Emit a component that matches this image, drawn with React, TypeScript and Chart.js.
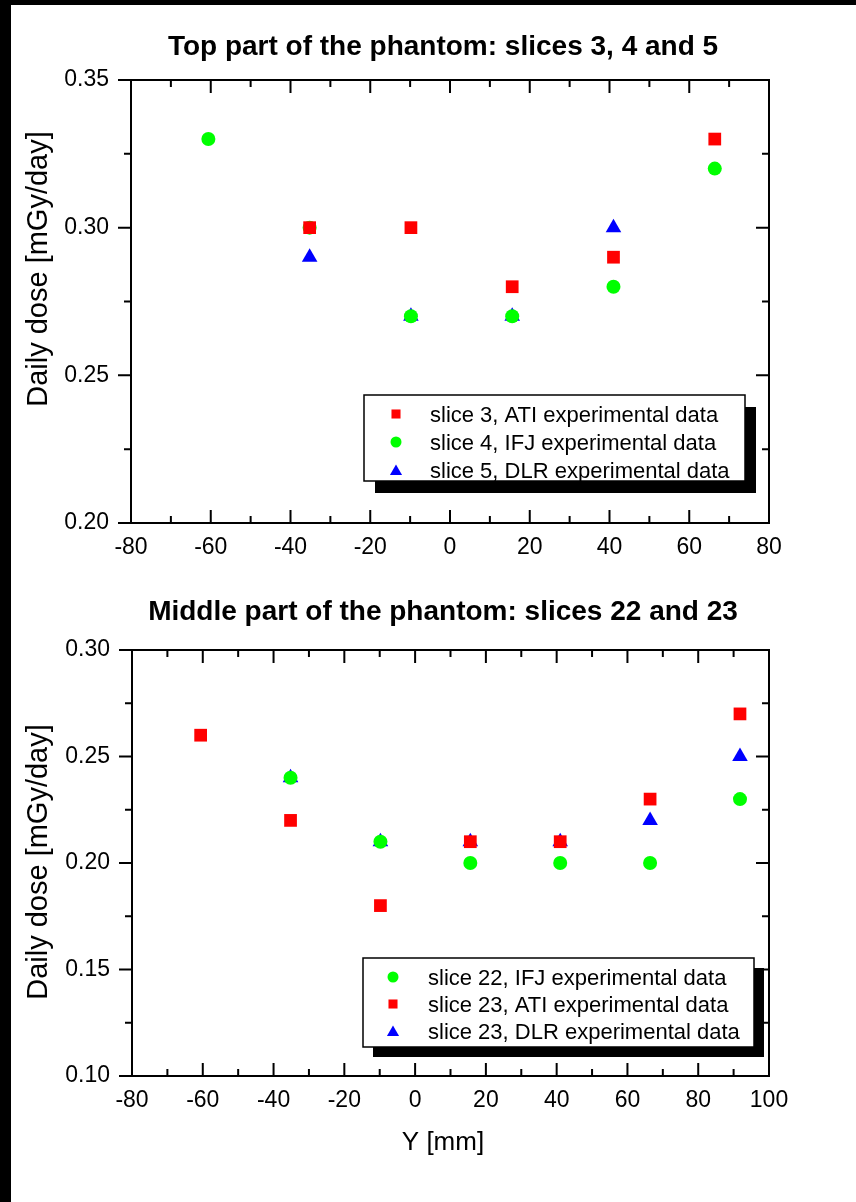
import React, { useEffect, useRef } from 'react';
import { Chart, registerables } from 'chart.js';

Chart.register(...registerables);

// ---------- text ----------
const topTitle = 'Top part of the phantom: slices 3, 4 and 5';
const bottomTitle = 'Middle part of the phantom: slices 22 and 23';
const yAxisTitle = 'Daily dose [mGy/day]';
const xAxisTitle = 'Y [mm]';

// ---------- top chart data ----------
const topX_ATI = [-35.2, -9.8, 15.6, 41.0, 66.4];
const topY_ATI = [0.30, 0.30, 0.28, 0.29, 0.33];
const topX_IFJ = [-60.6, -35.2, -9.8, 15.6, 41.0, 66.4];
const topY_IFJ = [0.33, 0.30, 0.27, 0.27, 0.28, 0.32];
const topX_DLR = [-35.2, -9.8, 15.6, 41.0];
const topY_DLR = [0.29, 0.27, 0.27, 0.30];
const topLegend = [
  'slice 3, ATI experimental data',
  'slice 4, IFJ experimental data',
  'slice 5, DLR experimental data',
];

// ---------- bottom chart data ----------
const botX_IFJ = [-35.2, -9.8, 15.6, 41.0, 66.4, 91.8];
const botY_IFJ = [0.24, 0.21, 0.20, 0.20, 0.20, 0.23];
const botX_ATI = [-60.6, -35.2, -9.8, 15.6, 41.0, 66.4, 91.8];
const botY_ATI = [0.26, 0.22, 0.18, 0.21, 0.21, 0.23, 0.27];
const botX_DLR = [-35.2, -9.8, 15.6, 41.0, 66.4, 91.8];
const botY_DLR = [0.24, 0.21, 0.21, 0.21, 0.22, 0.25];
const bottomLegend = [
  'slice 22, IFJ experimental data',
  'slice 23, ATI experimental data',
  'slice 23, DLR experimental data',
];

// ---------- axis ranges ----------
const topXRange = [-80, 80];
const topYRange = [0.2, 0.35];
const botXRange = [-80, 100];
const botYRange = [0.1, 0.3];
const xStep = 20;
const yStep = 0.05;

const RED = '#ff0000';
const GREEN = '#00ff00';
const BLUE = '#0000ff';
const FONT = '"Liberation Sans", Arial, Helvetica, sans-serif';

function zip(xs: number[], ys: number[]) {
  return xs.map((x, i) => ({ x, y: ys[i] }));
}

function drawMarker(ctx: CanvasRenderingContext2D, style: string, x: number, y: number, r: number, color: string) {
  ctx.save();
  ctx.fillStyle = color;
  ctx.beginPath();
  if (style === 'rect') {
    const s = r * Math.SQRT1_2;
    ctx.rect(x - s, y - s, 2 * s, 2 * s);
  } else if (style === 'circle') {
    ctx.arc(x, y, r, 0, Math.PI * 2);
  } else {
    let a = 0;
    ctx.moveTo(x + Math.sin(a) * r, y - Math.cos(a) * r);
    a += (2 * Math.PI) / 3;
    ctx.lineTo(x + Math.sin(a) * r, y - Math.cos(a) * r);
    a += (2 * Math.PI) / 3;
    ctx.lineTo(x + Math.sin(a) * r, y - Math.cos(a) * r);
    ctx.closePath();
  }
  ctx.fill();
  ctx.restore();
}

type LegendCfg = {
  box: [number, number, number, number];
  shadow: [number, number];
  rows: number[];
  markerX: number;
  textX: number;
  items: { label: string; style: string; color: string }[];
};

type PanelCfg = {
  title: string;
  titleX: number;
  titleBaseline: number;
  yTitleBaselineX: number;
  yTitleCenter: number;
  xTitle?: string;
  xTitleX?: number;
  xTitleBaseline?: number;
  legend: LegendCfg;
};

function makePlugin(cfg: PanelCfg) {
  return {
    id: 'originFrame',
    beforeDatasetsDraw(chart: any) {
      const ctx: CanvasRenderingContext2D = chart.ctx;
      const { left, right, top, bottom } = chart.chartArea;
      const xs = chart.scales.x;
      const ys = chart.scales.y;
      ctx.save();
      ctx.strokeStyle = '#000';
      ctx.lineWidth = 2;
      ctx.strokeRect(left, top, right - left, bottom - top);
      const major = 13;
      const minor = 7;
      const xt: number[] = xs.ticks.map((t: any) => t.value);
      const yt: number[] = ys.ticks.map((t: any) => t.value);
      ctx.beginPath();
      xt.forEach((v, i) => {
        const p = xs.getPixelForValue(v);
        ctx.moveTo(p, top); ctx.lineTo(p, top + major);
        ctx.moveTo(p, bottom); ctx.lineTo(p, bottom - major);
        if (i < xt.length - 1) {
          const m = xs.getPixelForValue((v + xt[i + 1]) / 2);
          ctx.moveTo(m, top); ctx.lineTo(m, top + minor);
          ctx.moveTo(m, bottom); ctx.lineTo(m, bottom - minor);
        }
      });
      yt.forEach((v, i) => {
        const p = ys.getPixelForValue(v);
        ctx.moveTo(left - major, p); ctx.lineTo(left, p);
        ctx.moveTo(right, p); ctx.lineTo(right - major, p);
        if (i < yt.length - 1) {
          const m = ys.getPixelForValue((v + yt[i + 1]) / 2);
          ctx.moveTo(left - minor, m); ctx.lineTo(left, m);
          ctx.moveTo(right, m); ctx.lineTo(right - minor, m);
        }
      });
      ctx.stroke();
      ctx.restore();
    },
    afterDraw(chart: any) {
      const ctx: CanvasRenderingContext2D = chart.ctx;
      ctx.save();
      ctx.fillStyle = '#000';
      // chart title
      ctx.font = `bold 28px ${FONT}`;
      ctx.textAlign = 'center';
      ctx.textBaseline = 'alphabetic';
      ctx.fillText(cfg.title, cfg.titleX, cfg.titleBaseline);
      // y-axis title
      ctx.save();
      ctx.font = `29px ${FONT}`;
      ctx.translate(cfg.yTitleBaselineX, cfg.yTitleCenter);
      ctx.rotate(-Math.PI / 2);
      ctx.textAlign = 'center';
      ctx.fillText(yAxisTitle, 0, 0);
      ctx.restore();
      // x-axis title
      if (cfg.xTitle) {
        ctx.font = `26px ${FONT}`;
        ctx.textAlign = 'center';
        ctx.fillText(cfg.xTitle, cfg.xTitleX as number, cfg.xTitleBaseline as number);
      }
      // legend
      const lg = cfg.legend;
      const [bx, by, bw, bh] = lg.box;
      ctx.fillStyle = '#000';
      ctx.fillRect(bx + lg.shadow[0], by + lg.shadow[1], bw, bh);
      ctx.fillStyle = '#fff';
      ctx.fillRect(bx, by, bw, bh);
      ctx.strokeStyle = '#000';
      ctx.lineWidth = 1.5;
      ctx.strokeRect(bx, by, bw, bh);
      ctx.font = `22px ${FONT}`;
      ctx.textAlign = 'left';
      ctx.textBaseline = 'alphabetic';
      lg.items.forEach((it, i) => {
        const cy = lg.rows[i];
        const r = it.style === 'rect' ? 6.4 : it.style === 'circle' ? 5.5 : 7;
        const my = it.style === 'triangle' ? cy + 1.5 : cy;
        drawMarker(ctx, it.style, lg.markerX, my, r, it.color);
        ctx.fillStyle = '#000';
        ctx.fillText(it.label, lg.textX, cy + 8);
      });
      ctx.restore();
    },
  };
}

function makeConfig(
  datasets: any[],
  xr: number[],
  yr: number[],
  yWidth: number,
  pad: { top: number; right: number; bottom: number },
  cfg: PanelCfg,
) {
  return {
    type: 'scatter' as const,
    data: { datasets },
    options: {
      responsive: false,
      animation: false as const,
      layout: { padding: { left: 0, top: pad.top, right: pad.right, bottom: pad.bottom } },
      plugins: { legend: { display: false }, title: { display: false }, tooltip: { enabled: false } },
      scales: {
        x: {
          type: 'linear' as const,
          min: xr[0],
          max: xr[1],
          grid: { display: false, drawTicks: false },
          border: { display: false },
          ticks: {
            stepSize: xStep,
            padding: 11,
            color: '#000',
            font: { family: FONT, size: 23 },
            maxRotation: 0,
            autoSkip: false,
          },
          afterFit: (s: any) => { s.height = 40; },
        },
        y: {
          type: 'linear' as const,
          min: yr[0],
          max: yr[1],
          grid: { display: false, drawTicks: false },
          border: { display: false },
          ticks: {
            stepSize: yStep,
            padding: 22,
            color: '#000',
            font: { family: FONT, size: 23 },
            autoSkip: false,
            callback: (v: any) => Number(v).toFixed(2),
          },
          afterFit: (s: any) => { s.width = yWidth; },
        },
      },
    },
    plugins: [makePlugin(cfg)],
  };
}

function ds(label: string, xs: number[], ys: number[], style: string, color: string, r: number) {
  return {
    label,
    data: zip(xs, ys),
    pointStyle: style,
    pointRadius: r,
    pointHoverRadius: r,
    pointBackgroundColor: color,
    pointBorderColor: color,
    pointBorderWidth: 0,
    showLine: false,
  };
}

export default function App() {
  const topRef = useRef<HTMLCanvasElement>(null);
  const botRef = useRef<HTMLCanvasElement>(null);

  useEffect(() => {
    const topCfg: PanelCfg = {
      title: topTitle,
      titleX: 443,
      titleBaseline: 55,
      yTitleBaselineX: 47,
      yTitleCenter: 269,
      legend: {
        box: [364, 395, 381, 86],
        shadow: [11, 12],
        rows: [414, 442, 470],
        markerX: 396,
        textX: 430,
        items: [
          { label: topLegend[0], style: 'rect', color: RED },
          { label: topLegend[1], style: 'circle', color: GREEN },
          { label: topLegend[2], style: 'triangle', color: BLUE },
        ],
      },
    };
    const topChart = new Chart(
      topRef.current as HTMLCanvasElement,
      makeConfig(
        [
          ds(topLegend[0], topX_ATI, topY_ATI, 'rect', RED, 9),
          ds(topLegend[1], topX_IFJ, topY_IFJ, 'circle', GREEN, 7),
          ds(topLegend[2], topX_DLR, topY_DLR, 'triangle', BLUE, 9),
        ],
        topXRange,
        topYRange,
        131,
        { top: 80, right: 87, bottom: 27 },
        topCfg,
      ) as any,
    );

    const OFF = 590;
    const botCfg: PanelCfg = {
      title: bottomTitle,
      titleX: 443,
      titleBaseline: 620 - OFF,
      yTitleBaselineX: 47,
      yTitleCenter: 862 - OFF,
      xTitle: xAxisTitle,
      xTitleX: 443,
      xTitleBaseline: 1150 - OFF,
      legend: {
        box: [363, 958 - OFF, 391, 89],
        shadow: [10, 10],
        rows: [977 - OFF, 1004 - OFF, 1031 - OFF],
        markerX: 393,
        textX: 428,
        items: [
          { label: bottomLegend[0], style: 'circle', color: GREEN },
          { label: bottomLegend[1], style: 'rect', color: RED },
          { label: bottomLegend[2], style: 'triangle', color: BLUE },
        ],
      },
    };
    const botChart = new Chart(
      botRef.current as HTMLCanvasElement,
      makeConfig(
        [
          ds(bottomLegend[0], botX_IFJ, botY_IFJ, 'circle', GREEN, 7),
          ds(bottomLegend[1], botX_ATI, botY_ATI, 'rect', RED, 9),
          ds(bottomLegend[2], botX_DLR, botY_DLR, 'triangle', BLUE, 9),
        ],
        botXRange,
        botYRange,
        132,
        { top: 60, right: 87, bottom: 86 },
        botCfg,
      ) as any,
    );

    return () => {
      topChart.destroy();
      botChart.destroy();
    };
  }, []);

  return (
    <div style={{ position: 'absolute', left: 0, top: 0, width: 856, height: 1202, background: '#fff', overflow: 'hidden' }}>
      <canvas ref={topRef} width={856} height={590} style={{ position: 'absolute', left: 0, top: 0, display: 'block' }} />
      <canvas ref={botRef} width={856} height={612} style={{ position: 'absolute', left: 0, top: 590, display: 'block' }} />
      <div style={{ position: 'absolute', left: 0, top: 0, width: 856, height: 5, background: '#000' }} />
      <div style={{ position: 'absolute', left: 0, top: 0, width: 11, height: 1202, background: '#000' }} />
    </div>
  );
}
